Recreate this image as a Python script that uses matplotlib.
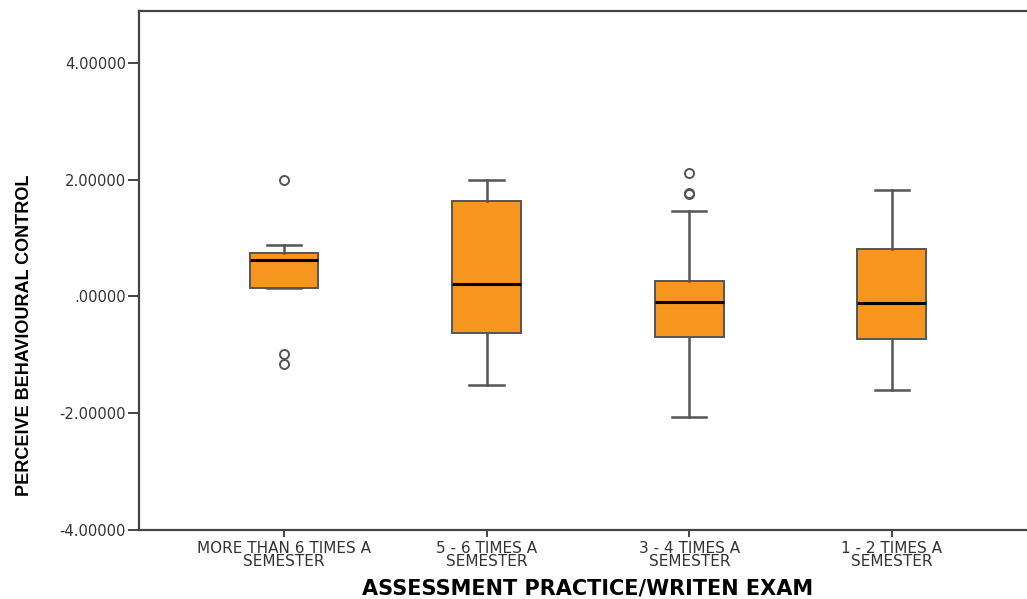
import matplotlib
matplotlib.use("Agg")
import matplotlib.pyplot as plt

# five-number summaries per exam-frequency group, plus outliers
groups = ["MORE THAN 6 TIMES A\nSEMESTER", "5 - 6 TIMES A\nSEMESTER",
          "3 - 4 TIMES A\nSEMESTER", "1 - 2 TIMES A\nSEMESTER"]
whisker_lo = [0.15, -1.51, -2.07, -1.61]
q1 = [0.15, -0.62, -0.70, -0.72]
median = [0.62, 0.21, -0.09, -0.12]
q3 = [0.75, 1.63, 0.26, 0.82]
whisker_hi = [0.89, 2.00, 1.46, 1.83]
outliers = [[2.00, -0.98, -1.15], [], [1.76, 1.78, 2.12], []]

plt.rcParams['font.family'] = ['DejaVu Sans']

fig = plt.figure(figsize=(10.27, 5.99), dpi=100)
ax = fig.add_axes([0.1353, 0.1152, 0.8744, 0.8664])

stats = []
for i in range(len(groups)):
    stats.append(dict(med=median[i], q1=q1[i], q3=q3[i],
                      whislo=whisker_lo[i], whishi=whisker_hi[i],
                      fliers=outliers[i], label=groups[i]))

edge = '#555555'
ax.bxp(stats, positions=[1, 2, 3, 4], widths=0.34, patch_artist=True,
       boxprops=dict(facecolor='#F7961E', edgecolor=edge, linewidth=1.4),
       medianprops=dict(color='black', linewidth=2.2),
       whiskerprops=dict(color=edge, linewidth=1.8),
       capprops=dict(color=edge, linewidth=1.8),
       capwidths=0.17,
       flierprops=dict(marker='o', markerfacecolor='none', markeredgecolor=edge,
                       markersize=6.5, markeredgewidth=1.4))

ax.set_xlim(0.284, 4.716)
ax.set_ylim(-4, 4.89)
ax.set_yticks([4, 2, 0, -2, -4])
ax.set_yticklabels(['4.00000', '2.00000', '.00000', '-2.00000', '-4.00000'])

for s in ax.spines.values():
    s.set_color('#444444')
    s.set_linewidth(1.6)

ax.tick_params(axis='y', length=8, width=1.4, color='#444444', labelsize=10.6,
               labelcolor='#333333', pad=1.5)
ax.tick_params(axis='x', length=5, width=1.4, color='#444444', labelsize=11,
               labelcolor='#333333', pad=3)
for lab in ax.get_xticklabels():
    lab.set_linespacing(0.85)

ax.set_ylabel('PERCEIVE BEHAVIOURAL CONTROL', fontsize=13, fontweight='bold',
              family='Liberation Sans')
ax.yaxis.set_label_coords(-0.118, 0.376)
ax.set_xlabel('ASSESSMENT PRACTICE/WRITEN EXAM', fontsize=15, fontweight='bold')
ax.xaxis.set_label_coords(0.5, -0.094)

fig.savefig('out.png', dpi=100)
